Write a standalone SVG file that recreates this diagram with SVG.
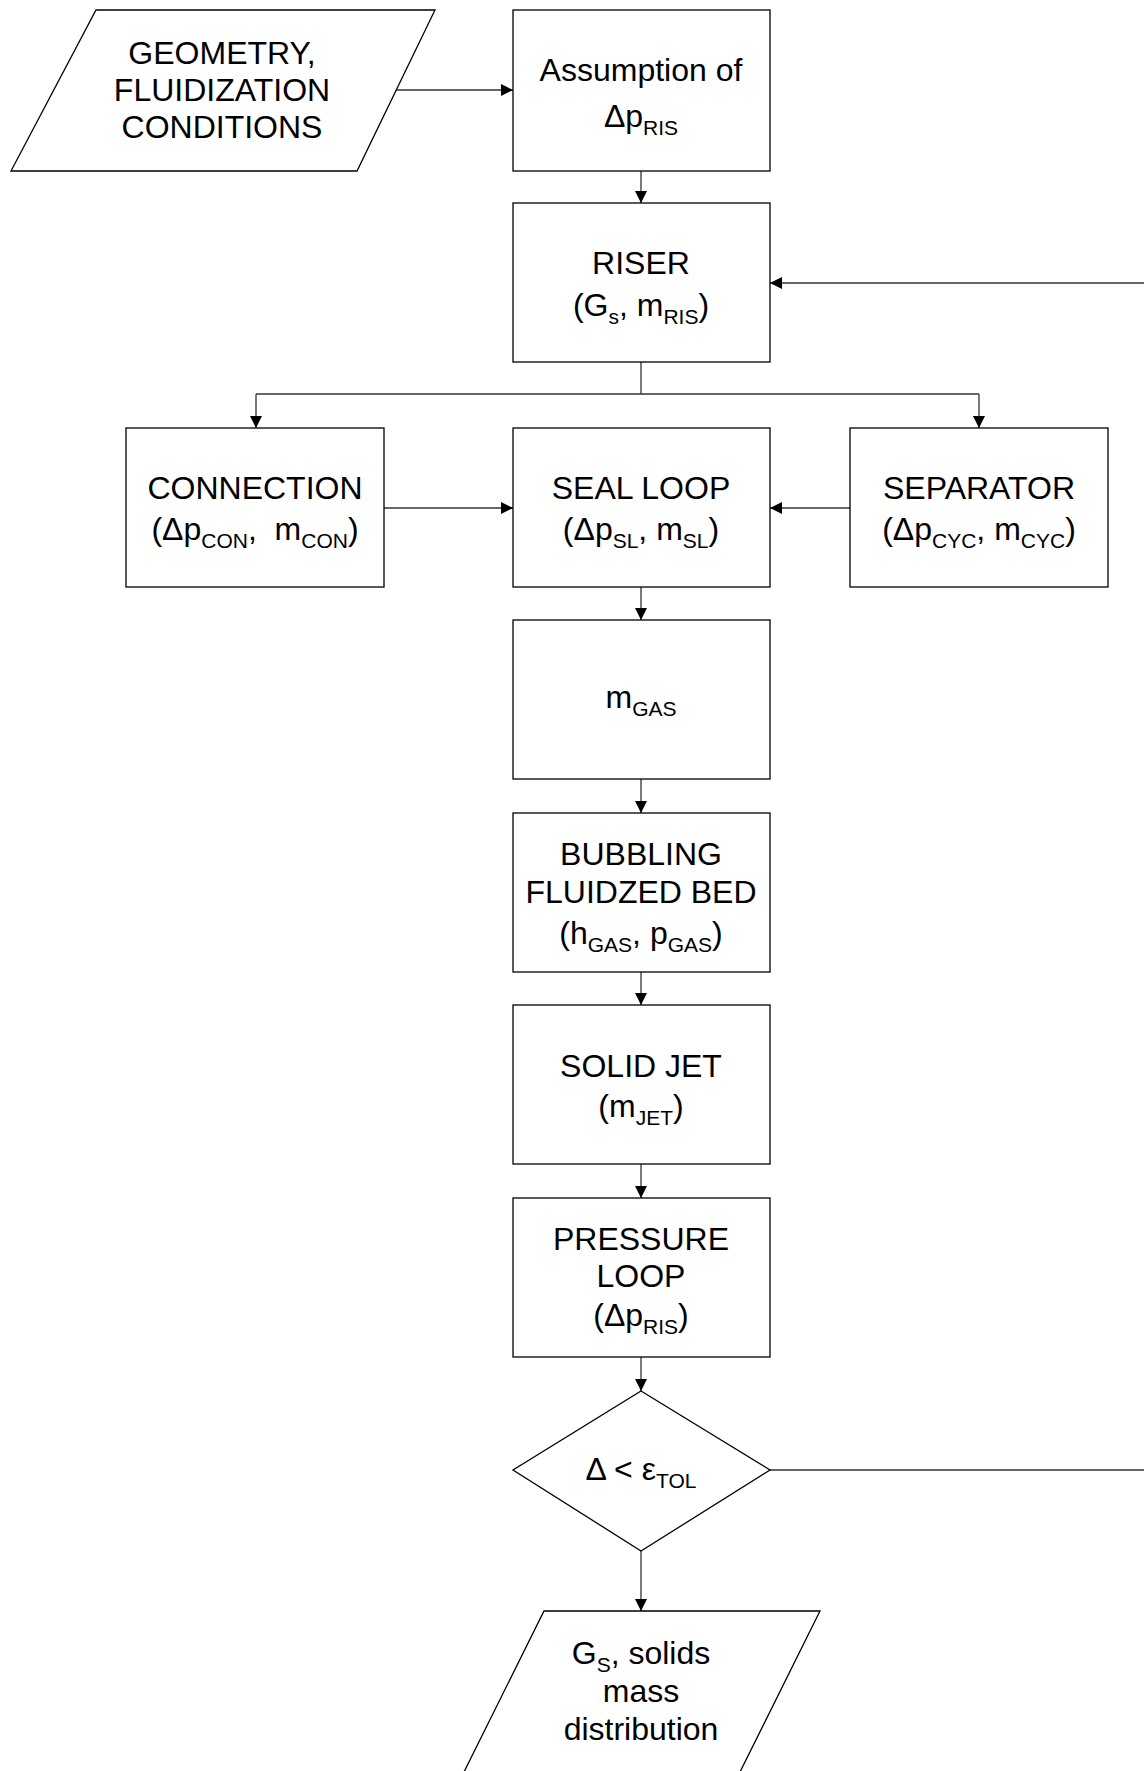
<svg xmlns="http://www.w3.org/2000/svg" width="1144" height="1771" viewBox="0 0 1144 1771">
  <style>
    .shape { fill: #ffffff; stroke: #000000; stroke-width: 1.3; }
    .link { fill: none; stroke: #333333; stroke-width: 1.3; }
    text { font-family: "Liberation Sans", Arial, sans-serif; font-size: 32px; fill: #000000; text-anchor: middle; }
    .sub { font-size: 21px; }
  </style>
  <defs>
    <marker id="arrow" viewBox="0 0 12 12" refX="12" refY="6" markerWidth="12" markerHeight="12" markerUnits="userSpaceOnUse" orient="auto">
      <path d="M0,0 L12,6 L0,12 Z" fill="#000000"/>
    </marker>
  </defs>

  <g id="connectors">
    <line class="link" x1="395" y1="90" x2="513" y2="90" marker-end="url(#arrow)"/>
    <line class="link" x1="641" y1="171" x2="641" y2="203" marker-end="url(#arrow)"/>
    <polyline class="link" points="641,362 641,394"/>
    <polyline class="link" points="256,394 979,394"/>
    <line class="link" x1="256" y1="394" x2="256" y2="428" marker-end="url(#arrow)"/>
    <line class="link" x1="979" y1="394" x2="979" y2="428" marker-end="url(#arrow)"/>
    <line class="link" x1="384" y1="508" x2="513" y2="508" marker-end="url(#arrow)"/>
    <line class="link" x1="850" y1="508" x2="770" y2="508" marker-end="url(#arrow)"/>
    <line class="link" x1="641" y1="587" x2="641" y2="620" marker-end="url(#arrow)"/>
    <line class="link" x1="641" y1="779" x2="641" y2="813" marker-end="url(#arrow)"/>
    <line class="link" x1="641" y1="972" x2="641" y2="1005" marker-end="url(#arrow)"/>
    <line class="link" x1="641" y1="1164" x2="641" y2="1198" marker-end="url(#arrow)"/>
    <line class="link" x1="641" y1="1357" x2="641" y2="1391" marker-end="url(#arrow)"/>
    <line class="link" x1="641" y1="1551" x2="641" y2="1611" marker-end="url(#arrow)"/>
    <!-- loop back to the riser when the tolerance is not met -->
    <line class="link" x1="770" y1="1470" x2="1144" y2="1470"/>
    <line class="link" x1="1144" y1="283" x2="770" y2="283" marker-end="url(#arrow)"/>
  </g>

  <g id="input">
    <polygon class="shape" points="96,10 435,10 357,171 11,171"/>
    <text x="222" y="64">GEOMETRY,</text>
    <text x="222" y="101">FLUIDIZATION</text>
    <text x="222" y="138">CONDITIONS</text>
  </g>

  <g id="assumption">
    <rect class="shape" x="513" y="10" width="257" height="161"/>
    <text x="641" y="81">Assumption of</text>
    <text x="641" y="127">Δp<tspan class="sub" dy="8">RIS</tspan></text>
  </g>

  <g id="riser">
    <rect class="shape" x="513" y="203" width="257" height="159"/>
    <text x="641" y="274">RISER</text>
    <text x="641" y="316">(G<tspan class="sub" dy="8">s</tspan><tspan dy="-8">, m</tspan><tspan class="sub" dy="8">RIS</tspan><tspan dy="-8">)</tspan></text>
  </g>

  <g id="connection">
    <rect class="shape" x="126" y="428" width="258" height="159"/>
    <text x="255" y="499">CONNECTION</text>
    <text x="255" y="540">(Δp<tspan class="sub" dy="8">CON</tspan><tspan dy="-8">,&#160; m</tspan><tspan class="sub" dy="8">CON</tspan><tspan dy="-8">)</tspan></text>
  </g>

  <g id="seal-loop">
    <rect class="shape" x="513" y="428" width="257" height="159"/>
    <text x="641" y="499">SEAL LOOP</text>
    <text x="641" y="540">(Δp<tspan class="sub" dy="8">SL</tspan><tspan dy="-8">, m</tspan><tspan class="sub" dy="8">SL</tspan><tspan dy="-8">)</tspan></text>
  </g>

  <g id="separator">
    <rect class="shape" x="850" y="428" width="258" height="159"/>
    <text x="979" y="499">SEPARATOR</text>
    <text x="979" y="540">(Δp<tspan class="sub" dy="8">CYC</tspan><tspan dy="-8">, m</tspan><tspan class="sub" dy="8">CYC</tspan><tspan dy="-8">)</tspan></text>
  </g>

  <g id="gas-flow">
    <rect class="shape" x="513" y="620" width="257" height="159"/>
    <text x="641" y="708">m<tspan class="sub" dy="8">GAS</tspan></text>
  </g>

  <g id="bubbling-bed">
    <rect class="shape" x="513" y="813" width="257" height="159"/>
    <text x="641" y="865">BUBBLING</text>
    <text x="641" y="903">FLUIDZED BED</text>
    <text x="641" y="944">(h<tspan class="sub" dy="8">GAS</tspan><tspan dy="-8">, p</tspan><tspan class="sub" dy="8">GAS</tspan><tspan dy="-8">)</tspan></text>
  </g>

  <g id="solid-jet">
    <rect class="shape" x="513" y="1005" width="257" height="159"/>
    <text x="641" y="1077">SOLID JET</text>
    <text x="641" y="1117">(m<tspan class="sub" dy="8">JET</tspan><tspan dy="-8">)</tspan></text>
  </g>

  <g id="pressure-loop">
    <rect class="shape" x="513" y="1198" width="257" height="159"/>
    <text x="641" y="1250">PRESSURE</text>
    <text x="641" y="1287">LOOP</text>
    <text x="641" y="1326">(Δp<tspan class="sub" dy="8">RIS</tspan><tspan dy="-8">)</tspan></text>
  </g>

  <g id="tolerance-check">
    <polygon class="shape" points="641,1391 770,1470 641,1551 513,1470"/>
    <text x="641" y="1480" xml:space="preserve">Δ &lt; ε<tspan class="sub" dy="8">TOL</tspan></text>
  </g>

  <g id="output">
    <polygon class="shape" points="544,1611 820,1611 736,1780 460,1780"/>
    <text x="641" y="1664">G<tspan class="sub" dy="8">S</tspan><tspan dy="-8">, solids</tspan></text>
    <text x="641" y="1702">mass</text>
    <text x="641" y="1740">distribution</text>
  </g>
</svg>
